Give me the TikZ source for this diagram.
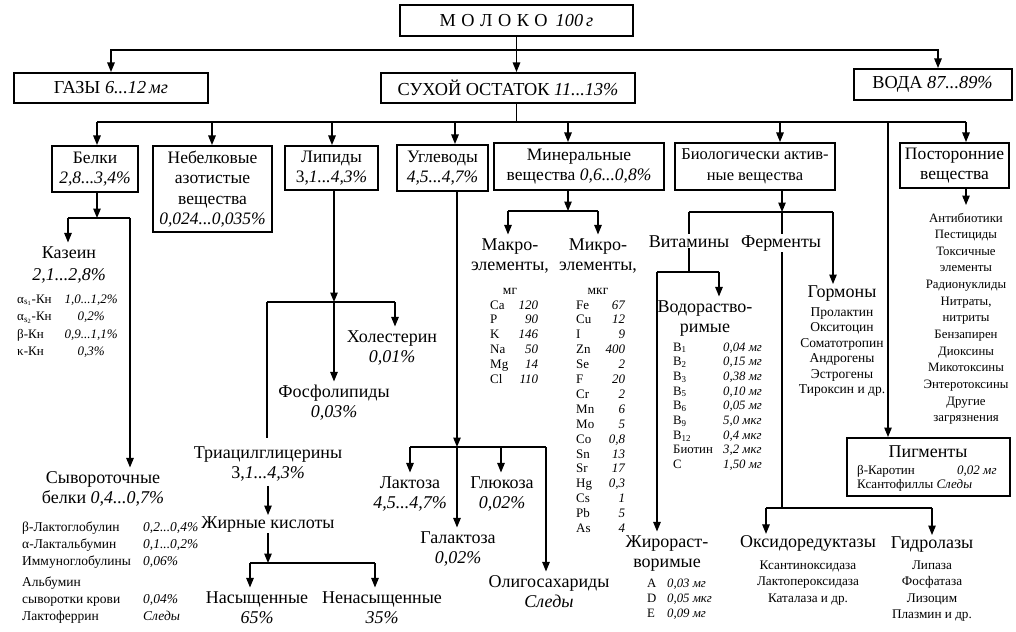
\documentclass[tikz,border=0pt]{standalone}
\usepackage{fontspec}
\setmainfont{Liberation Serif}
\usetikzlibrary{arrows.meta}
\newcommand{\ftop}{\fontsize{18.3}{21}\selectfont}
\newcommand{\fbx}{\fontsize{17.5}{20.5}\selectfont}
\newcommand{\fbig}{\fontsize{18}{20.5}\selectfont}
\newcommand{\fmid}{\fontsize{13.2}{16.5}\selectfont}
\newcommand{\fsml}{\fontsize{13}{14.9}\selectfont}
\newcommand{\ml}[1]{\begin{tabular}[t]{@{}c@{}}#1\end{tabular}}
\newcommand{\kv}[3]{\makebox[#1][s]{#2\hfill\textit{#3}}}
\newcommand{\lv}[3]{\makebox[#1][l]{#2}\textit{#3}}
\begin{document}
\begin{tikzpicture}[x=1pt,y=-1pt,
  box/.style={draw, line width=2pt, align=center, inner sep=1pt, font=\fbx},
  lbl/.style={inner sep=1pt, font=\fbig, anchor=base},
  lst/.style={inner sep=0pt, font=\fsml, anchor=base west},
  clst/.style={inner sep=0pt, font=\fmid, anchor=base},
  conn/.style={line width=1.2pt},
  arr/.style={conn, -{Triangle[length=9.5pt,width=7.5pt]}}]
\useasboundingbox (0,0) rectangle (1016,631);

% ---------- boxes ----------
\node[box, font=\ftop, minimum width=233, minimum height=31] (moloko) at (516.5,20.5) {М\hspace{5.5pt}О\hspace{5.5pt}Л\hspace{5.5pt}О\hspace{5.5pt}К\hspace{5.5pt}О\hspace{8pt}\textit{100\,г}};
\node[box, font=\ftop, minimum width=194, minimum height=30] (gazy) at (111,88) {ГАЗЫ \textit{6...12\,мг}};
\node[box, font=\ftop, minimum width=254, minimum height=30] (sukhoi) at (508,88) {СУХОЙ ОСТАТОК \textit{11...13\%}};
\node[box, font=\ftop, minimum width=158, minimum height=31] (voda) at (932.5,84.5) {ВОДА \textit{87...89\%}};

\node[box, minimum width=86, minimum height=46] (belki) at (95,169) {Белки\\\textit{2,8...3,4\%}};
\node[box, minimum width=119, minimum height=86] (nebelk) at (212.5,189) {Небелковые\\азотистые\\вещества\\\textit{0,024...0,035\%}};
\node[box, minimum width=93, minimum height=44] (lipidy) at (331.5,168) {Липиды\\3,\textit{1...4,3\%}};
\node[box, minimum width=91, minimum height=46] (uglev) at (442.5,168) {Углеводы\\\textit{4,5...4,7\%}};
\node[box, minimum width=170, minimum height=47] (miner) at (579,166.5) {Минеральные\\вещества \textit{0,6...0,8\%}};
\node[box, font=\fontsize{16.5}{20.5}\selectfont, minimum width=160, minimum height=47] (bio) at (755,166.5) {Биологически актив-\\ные вещества};
\node[box, minimum width=109, minimum height=45] (postor) at (954.5,165.5) {Посторонние\\вещества};

% ---------- proteins ----------
\node[lbl] (kaz) at (69,258) {\ml{Казеин\\[2pt]\textit{2,1...2,8\%}}};
\node[lst, font=\fontsize{13}{17.5}\selectfont] (kazL) at (17,303) {\begin{tabular}[t]{@{}l@{}}
 \makebox[46pt][l]{α\textsubscript{s\textsubscript{1}}-Кн}\makebox[56pt]{\textit{1,0...1,2\%}}\\
 \makebox[46pt][l]{α\textsubscript{s\textsubscript{2}}-Кн}\makebox[56pt]{\textit{0,2\%}}\\
 \makebox[46pt][l]{β-Кн}\makebox[56pt]{\textit{0,9...1,1\%}}\\
 \makebox[46pt][l]{κ-Кн}\makebox[56pt]{\textit{0,3\%}}
\end{tabular}};
\node[lbl] (syv) at (103,483) {\ml{Сывороточные\\белки \textit{0,4...0,7\%}}};
\node[lst, font=\fontsize{13.5}{17}\selectfont] (syvL) at (22,531) {\begin{tabular}[t]{@{}l@{}}
 \lv{121pt}{β-Лактоглобулин}{0,2...0,4\%}\\
 \lv{121pt}{α-Лактальбумин}{0,1...0,2\%}\\
 \lv{121pt}{Иммуноглобулины}{0,06\%}\\[4pt]
 Альбумин\\
 \lv{121pt}{сыворотки крови}{0,04\%}\\
 \lv{121pt}{Лактоферрин}{Следы}
\end{tabular}};

% ---------- lipids ----------
\node[lbl] (chol) at (392,342) {\ml{Холестерин\\\textit{0,01\%}}};
\node[lbl] (phos) at (334,397) {\ml{Фосфолипиды\\\textit{0,03\%}}};
\node[lbl] (triac) at (268,458) {\ml{Триацилглицерины\\3,\textit{1...4,3\%}}};
\node[lbl] (fatty) at (268,528) {Жирные кислоты};
\node[lbl] (sat) at (257,603) {\ml{Насыщенные\\\textit{65\%}}};
\node[lbl] (unsat) at (382,603) {\ml{Ненасыщенные\\\textit{35\%}}};

% ---------- carbohydrates ----------
\node[lbl] (lact) at (410,488) {\ml{Лактоза\\\textit{4,5...4,7\%}}};
\node[lbl] (gluc) at (502,488) {\ml{Глюкоза\\\textit{0,02\%}}};
\node[lbl] (galac) at (458,543) {\ml{Галактоза\\\textit{0,02\%}}};
\node[lbl] (oligo) at (549,587) {\ml{Олигосахариды\\\textit{Следы}}};

% ---------- minerals ----------
\node[lbl] (macro) at (510,250) {\ml{Макро-\\элементы,\\[3pt]{\fontsize{13.5}{15}\selectfont мг}}};
\node[lbl] (micro) at (598,250) {\ml{Микро-\\элементы,\\[3pt]{\fontsize{13.5}{15}\selectfont мкг}}};
\node[lst] (macroL) at (490,309) {\begin{tabular}[t]{@{}l@{}}
 \kv{48pt}{Ca}{120}\\\kv{48pt}{P}{90}\\\kv{48pt}{K}{146}\\\kv{48pt}{Na}{50}\\\kv{48pt}{Mg}{14}\\\kv{48pt}{Cl}{110}
\end{tabular}};
\node[lst] (microL) at (576,309) {\begin{tabular}[t]{@{}l@{}}
 \kv{49pt}{Fe}{67}\\\kv{49pt}{Cu}{12}\\\kv{49pt}{I}{9}\\\kv{49pt}{Zn}{400}\\\kv{49pt}{Se}{2}\\\kv{49pt}{F}{20}\\
 \kv{49pt}{Cr}{2}\\\kv{49pt}{Mn}{6}\\\kv{49pt}{Mo}{5}\\\kv{49pt}{Co}{0,8}\\\kv{49pt}{Sn}{13}\\\kv{49pt}{Sr}{17}\\
 \kv{49pt}{Hg}{0,3}\\\kv{49pt}{Cs}{1}\\\kv{49pt}{Pb}{5}\\\kv{49pt}{As}{4}
\end{tabular}};

% ---------- biologically active ----------
\node[lbl] (vit) at (689,247) {Витамины};
\node[lbl] (ferm) at (781,247) {Ферменты};
\node[lbl] (horm) at (842,297) {Гормоны};
\node[clst, font=\fontsize{13.5}{15.5}\selectfont] (hormL) at (842,316) {\begin{tabular}[t]{@{}c@{}}Пролактин\\Окситоцин\\Соматотропин\\Андрогены\\Эстрогены\\Тироксин и др.\end{tabular}};
\node[lbl] (wsol) at (705,312) {\ml{Водораство-\\римые}};
\node[lst, font=\fontsize{12.8}{14.7}\selectfont] (wsolL) at (673,351) {\begin{tabular}[t]{@{}l@{}}
 \lv{50pt}{B\textsubscript{1}}{0,04 мг}\\\lv{50pt}{B\textsubscript{2}}{0,15 мг}\\\lv{50pt}{B\textsubscript{3}}{0,38 мг}\\
 \lv{50pt}{B\textsubscript{5}}{0,10 мг}\\\lv{50pt}{B\textsubscript{6}}{0,05 мг}\\\lv{50pt}{B\textsubscript{9}}{5,0 мкг}\\
 \lv{50pt}{B\textsubscript{12}}{0,4 мкг}\\\lv{50pt}{Биотин}{3,2 мкг}\\\lv{50pt}{C}{1,50 мг}
\end{tabular}};
\node[lbl] (fsol) at (667,547) {\ml{Жирораст-\\воримые}};
\node[lst, font=\fontsize{12.8}{15}\selectfont] (fsolL) at (647,587) {\begin{tabular}[t]{@{}l@{}}
 \lv{20pt}{A}{0,03 мг}\\\lv{20pt}{D}{0,05 мкг}\\\lv{20pt}{E}{0,09 мг}
\end{tabular}};
\node[lbl] (oxid) at (808,547) {Оксидоредуктазы};
\node[clst] (oxidL) at (808,569) {\begin{tabular}[t]{@{}c@{}}Ксантиноксидаза\\Лактопероксидаза\\Каталаза и др.\end{tabular}};
\node[lbl] (hydr) at (932,548) {Гидролазы};
\node[clst] (hydrL) at (932,569) {\begin{tabular}[t]{@{}c@{}}Липаза\\Фосфатаза\\Лизоцим\\Плазмин и др.\end{tabular}};

% ---------- foreign substances & pigments ----------
\node[clst, font=\fontsize{12.8}{16.65}\selectfont] (toxL) at (966,222) {\begin{tabular}[t]{@{}c@{}}Антибиотики\\Пестициды\\Токсичные\\элементы\\Радионуклиды\\Нитраты,\\нитриты\\Бензапирен\\Диоксины\\Микотоксины\\Энтеротоксины\\Другие\\загрязнения\end{tabular}};
\node[draw, line width=2pt, minimum width=163, minimum height=58, inner sep=0pt] (pigm) at (928.5,467) {};
\node[lbl] (pigT) at (928,457) {Пигменты};
\node[lst, font=\fontsize{13}{14.5}\selectfont] (pigL) at (857,474) {\begin{tabular}[t]{@{}l@{}}\lv{100pt}{β-Каротин}{0,02 мг}\\Ксантофиллы \textit{Следы}\end{tabular}};

% ---------- connectors: level 1 ----------
\coordinate (j0) at (516.5,50);
\coordinate (dVoda) at (938,50);
\draw[arr] (moloko.south) -- (moloko.south |- sukhoi.north);
\draw[arr] (j0) -| (gazy.north);
\draw[arr] (j0) -- (dVoda) -- (dVoda |- voda.north);

% ---------- connectors: level 2 ----------
\coordinate (j1) at (516.5,122);
\coordinate (dBelki) at (97,122);
\coordinate (dNeb) at (212,122);
\coordinate (dLip) at (332,122);
\coordinate (dUgl) at (455,122);
\coordinate (dMin) at (568,122);
\coordinate (dBio) at (780,122);
\coordinate (dPig) at (888,122);
\coordinate (dPost) at (966,122);
\draw[conn] (j1 |- sukhoi.south) -- (j1);
\draw[conn] (dBelki) -- (dPost);
\draw[arr] (dBelki) -- (dBelki |- belki.north);
\draw[arr] (dNeb) -- (dNeb |- nebelk.north);
\draw[arr] (dLip) -- (dLip |- lipidy.north);
\draw[arr] (dUgl) -- (dUgl |- uglev.north);
\draw[arr] (dMin) -- (dMin |- miner.north);
\draw[arr] (dBio) -- (dBio |- bio.north);
\draw[arr] (dPost) -- (dPost |- postor.north);
\draw[arr] (dPig) -- (dPig |- pigm.north);
\coordinate (tPost) at (966,205);
\draw[arr] (tPost |- postor.south) -- (tPost);

% ---------- proteins ----------
\coordinate (jB) at (97,218);
\coordinate (jBl) at (68,218);
\coordinate (jBr) at (130,218);
\draw[arr] (jB |- belki.south) -- (jB);
\draw[conn] (jBl) -- (jBr);
\draw[arr] (jBl) -- (jBl |- kaz.north);
\draw[arr] (jBr) -- (jBr |- syv.north);

% ---------- lipids ----------
\coordinate (jL) at (334,302);
\coordinate (jLl) at (267,302);
\coordinate (jLr) at (395,302);
\draw[arr] (jL |- lipidy.south) -- (jL);
\draw[conn] (jLl) -- (jLr);
\draw[arr] (jLr) -- (jLr |- chol.north);
\draw[arr] (jL) -- (jL |- phos.north);
\draw[conn, shorten >=4pt] (jLl) -- (jLl |- triac.north);
\draw[arr] (triac.south) -- (fatty.north);
\coordinate (jF) at (268,563);
\coordinate (jFl) at (250,563);
\coordinate (jFr) at (375,563);
\draw[arr] (fatty.south) -- (jF);
\draw[conn] (jFl) -- (jFr);
\draw[arr] (jFl) -- (jFl |- sat.north);
\draw[arr] (jFr) -- (jFr |- unsat.north);

% ---------- carbohydrates ----------
\coordinate (jC) at (457,447);
\coordinate (jCl) at (410,447);
\coordinate (jCg) at (501,447);
\coordinate (jCr) at (546,447);
\draw[arr] (jC |- uglev.south) -- (jC);
\draw[conn] (jCl) -- (jCr);
\draw[arr] (jCl) -- (jCl |- lact.north);
\draw[arr] (jCg) -- (jCg |- gluc.north);
\draw[arr] (jC) -- (jC |- galac.north);
\draw[arr] (jCr) -- (jCr |- oligo.north);

% ---------- minerals ----------
\coordinate (jM) at (568,211);
\coordinate (jMl) at (508,211);
\coordinate (jMr) at (598,211);
\draw[arr] (jM |- miner.south) -- (jM);
\draw[conn] (jMl) -- (jMr);
\draw[arr] (jMl) -- (jMl |- macro.north);
\draw[arr] (jMr) -- (jMr |- micro.north);

% ---------- biologically active ----------
\coordinate (jBio) at (782,212);
\coordinate (jBiol) at (689,212);
\coordinate (jBior) at (833,212);
\draw[arr] (jBio |- bio.south) -- (jBio);
\draw[conn] (jBiol) -- (jBior);
\draw[conn] (jBiol) -- (jBiol |- vit.north);
\draw[conn] (jBio) -- (jBio |- ferm.north);
\draw[arr] (jBior) -- (jBior |- horm.north);
\coordinate (jV) at (689,272);
\coordinate (jVl) at (657,272);
\coordinate (jVr) at (719,272);
\draw[conn] (jV |- vit.south) -- (jV);
\draw[conn] (jVl) -- (jVr);
\draw[arr] (jVr) -- (jVr |- wsol.north);
\draw[arr] (jVl) -- (jVl |- fsol.north);
\coordinate (jE) at (782,508);
\coordinate (jEl) at (766,508);
\coordinate (jEr) at (932,508);
\draw[conn] (jE |- ferm.south) -- (jE);
\draw[conn] (jEl) -- (jEr);
\draw[arr] (jEl) -- (jEl |- oxid.north);
\draw[arr] (jEr) -- (jEr |- hydr.north);
\end{tikzpicture}
\end{document}
